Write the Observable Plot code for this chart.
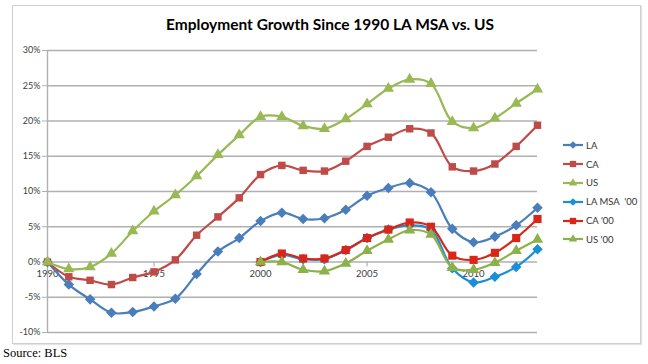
<!DOCTYPE html>
<html>
<head>
<meta charset="utf-8">
<script src="https://cdn.jsdelivr.net/npm/d3@7"></script>
<script src="https://cdn.jsdelivr.net/npm/@observablehq/plot@0.6"></script>
<style>
  html, body { margin: 0; padding: 0; background: #fff; }
  #wrap { position: relative; width: 648px; height: 364px; overflow: hidden; font-family: Lato, "DejaVu Sans", sans-serif; }
  #box { position: absolute; left: 12px; top: 5px; width: 627px; height: 337px; border: 1px solid #cfcfcf; box-shadow: 1px 1px 1px #e4e4e4; }
  #title { position: absolute; left: 0; width: 660px; top: 15px; text-align: center; font-weight: bold; font-size: 15.5px; color: #000; }
  #chart { position: absolute; left: 0; top: 0; }
  #legend { position: absolute; left: 562px; top: 136px; font-size: 9.5px; color: #333; }
  .item { height: 18.8px; display: flex; align-items: center; }
  .item svg { margin-right: 2px; }
  #source { position: absolute; left: 3px; top: 346px; font-family: "Liberation Serif", "Times New Roman", serif; font-size: 12.5px; color: #000; }
</style>
</head>
<body>
<div id="wrap">
  <div id="box"></div>
  <div id="chart"></div>
  <div id="title">Employment Growth Since 1990 LA MSA vs. US</div>
  <div id="legend"></div>
  <div id="source">Source: BLS</div>
</div>
<script>
const years = [1990,1991,1992,1993,1994,1995,1996,1997,1998,1999,2000,2001,2002,2003,2004,2005,2006,2007,2008,2009,2010,2011,2012,2013];
const la = [0,-3.2,-5.3,-7.2,-7.1,-6.3,-5.2,-1.7,1.5,3.4,5.8,7.0,6.1,6.2,7.4,9.4,10.5,11.2,9.9,4.7,2.8,3.6,5.2,7.7];
const ca = [0,-2.1,-2.6,-3.2,-2.2,-1.4,0.3,3.8,6.4,9.1,12.4,13.7,13.0,12.9,14.3,16.4,17.7,18.9,18.3,13.5,12.9,13.9,16.4,19.4];
const us = [0,-1.0,-0.7,1.2,4.4,7.2,9.5,12.2,15.2,18.0,20.6,20.6,19.3,18.9,20.3,22.4,24.6,25.9,25.3,19.9,19.0,20.4,22.5,24.5];
const years00 = [2000,2001,2002,2003,2004,2005,2006,2007,2008,2009,2010,2011,2012,2013];
const la00 = [0,1.0,0.4,0.4,1.7,3.4,4.6,5.2,4.6,-0.9,-2.9,-2.1,-0.7,1.8];
const ca00 = [0,1.2,0.5,0.5,1.7,3.4,4.6,5.6,5.0,0.9,0.3,1.3,3.4,6.1];
const us00 = [0,0.0,-1.1,-1.3,-0.2,1.6,3.2,4.5,3.9,-0.8,-1.1,-0.1,1.6,3.2];
const yTicks = [-10,-5,0,5,10,15,20,25,30];
const xTicks = [1990,1995,2000,2005,2010];
const seriesNames = ["LA","CA","US","LA MSA  '00","CA '00","US '00"];

// Excel-like diamond (rotated square)
const diamondSq = {
  draw(ctx, size) {
    const r = Math.sqrt(size / 2);
    ctx.moveTo(0, -r); ctx.lineTo(r, 0); ctx.lineTo(0, r); ctx.lineTo(-r, 0); ctx.closePath();
  }
};

const seriesDefs = [
  {name: seriesNames[0], xs: years,   ys: la,   color: "#4A7EBB", symbol: diamondSq,  r: 4.2},
  {name: seriesNames[1], xs: years,   ys: ca,   color: "#BE4B48", symbol: "square",   r: 4.2},
  {name: seriesNames[2], xs: years,   ys: us,   color: "#98B954", symbol: "triangle", r: 4.2},
  {name: seriesNames[3], xs: years00, ys: la00, color: "#1A8FD8", symbol: diamondSq,  r: 4.2},
  {name: seriesNames[4], xs: years00, ys: ca00, color: "#D9261A", symbol: "square",   r: 4.6},
  {name: seriesNames[5], xs: years00, ys: us00, color: "#8CB04A", symbol: "triangle", r: 4.2}
];

const marks = [
  Plot.ruleY(yTicks, {stroke: "#b0b0b0", strokeWidth: 1.4}),
  Plot.ruleX([years[0]], {stroke: "#b0b0b0", strokeWidth: 1.4}),
  Plot.axisY({ticks: yTicks, tickSize: 5, tickPadding: 2, tickFormat: d => d + "%", stroke: "#b0b0b0", fill: "#404040", fontSize: 9, label: null}),
  Plot.ruleX(xTicks, {y1: 0, y2: -0.7, stroke: "#b0b0b0", strokeWidth: 1.2}),
  Plot.text(xTicks, {x: d => d, y: 0, dy: 12, text: d => String(d), fill: "#404040", fontSize: 9.5})
];
for (const s of seriesDefs) {
  const data = s.xs.map((x, i) => ({x, y: s.ys[i]}));
  marks.push(Plot.line(data, {x: "x", y: "y", stroke: s.color, strokeWidth: 2.2, curve: "catmull-rom"}));
  marks.push(Plot.dot(data, {x: "x", y: "y", fill: s.color, symbol: s.symbol, r: s.r, stroke: "none"}));
}

const chart = Plot.plot({
  width: 648,
  height: 345,
  marginLeft: 47,
  marginRight: 111,
  marginTop: 50,
  marginBottom: 13,
  style: {fontFamily: "Lato, 'DejaVu Sans', sans-serif", fontSize: "9px", background: "transparent", overflow: "visible"},
  x: {domain: [1990, 2013], axis: null},
  y: {domain: [-10, 30], axis: null},
  marks
});
document.getElementById("chart").appendChild(chart);

const legend = document.getElementById("legend");
for (const s of seriesDefs) {
  const item = document.createElement("div");
  item.className = "item";
  const sym = d3.symbol().type(
    s.symbol === diamondSq ? diamondSq : s.symbol === "square" ? d3.symbolSquare : d3.symbolTriangle
  ).size(s.symbol === "square" ? 40 : 30)();
  item.innerHTML = `<svg width="22" height="10"><line x1="1" x2="21" y1="5" y2="5" stroke="${s.color}" stroke-width="2.2"/><path d="${sym}" transform="translate(11,5)" fill="${s.color}"/></svg><span>${s.name.replace(/ /g, "&nbsp;")}</span>`;
  legend.appendChild(item);
}
</script>
</body>
</html>
